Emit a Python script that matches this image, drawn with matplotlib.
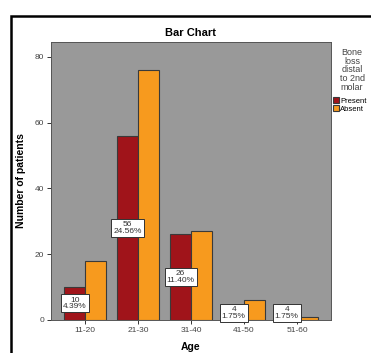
import numpy as np
import matplotlib.pyplot as plt
from matplotlib.patches import Rectangle

plt.rcParams['font.family'] = ['Liberation Sans', 'DejaVu Sans']

# Data
ages = ["11-20", "21-30", "31-40", "41-50", "51-60"]
present = [10, 56, 26, 4, 4]
absent = [18, 76, 27, 6, 1]
present_pct = ["4.39%", "24.56%", "11.40%", "1.75%", "1.75%"]

fig = plt.figure(figsize=(3.71, 3.53), dpi=100)
ax = fig.add_axes([0.1375, 0.094, 0.7545, 0.787])

x = np.arange(len(ages))
w = 0.39
ax.bar(x - w / 2, present, w, color="#a0141a", edgecolor="#3a3a3a", linewidth=0.8, label="Present", zorder=2)
ax.bar(x + w / 2, absent, w, color="#f79a1e", edgecolor="#3a3a3a", linewidth=0.8, label="Absent", zorder=2)

# value boxes in the middle of the Present bars
for i in range(len(ages)):
    ax.text(x[i] - w / 2, present[i] / 2, f"{present[i]}\n{present_pct[i]}", ha="center", va="center",
            fontsize=6, color="#333333", linespacing=0.95, zorder=3,
            bbox=dict(boxstyle="square,pad=0.25", fc="white", ec="#333333", lw=0.7))

ax.set_facecolor("#999999")
ax.set_xlim(-0.64, 4.64)
ax.set_ylim(0, 84.5)
ax.set_yticks([0, 20, 40, 60, 80])
ax.set_xticks(x)
ax.set_xticklabels(ages)
ax.tick_params(labelsize=6, colors="#333333", length=3, width=0.7, labelcolor="#444444", pad=2)
for s in ax.spines.values():
    s.set_color("#555555")
    s.set_linewidth(0.7)

ax.set_title("Bar Chart", fontsize=8, fontweight="bold", pad=4)
ax.set_ylabel("Number of patients", fontsize=7.5, fontweight="bold", labelpad=6)
ax.set_xlabel("Age", fontsize=7.5, fontweight="bold", labelpad=6)

# legend at right
fig.text(0.949, 0.864, "Bone\nloss\ndistal\nto 2nd\nmolar", ha="center", va="top", fontsize=6.5,
         color="#444444", linespacing=0.95)
leg = fig.legend(loc="upper left", bbox_to_anchor=(0.882, 0.74), fontsize=5.5, frameon=False,
                 handlelength=0.8, handleheight=0.8, handletextpad=0.2, labelspacing=0.05, borderpad=0.2)

# outer frame of the figure
fig.patches.append(Rectangle((0.029, -0.1), 1.2, 1.055, transform=fig.transFigure, fill=False,
                             ec="black", lw=1.8))
fig.text(-0.005, 1.05, "g", fontsize=12, va="top", ha="left")

fig.savefig("out.png", dpi=100)
